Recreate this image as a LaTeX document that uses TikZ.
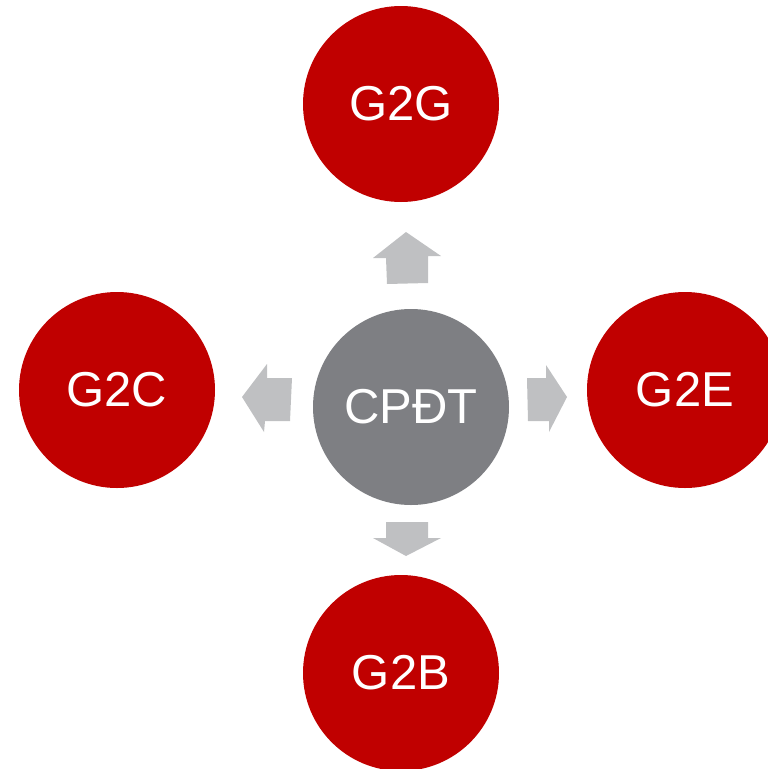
\documentclass[tikz,border=0pt]{standalone}
\usepackage{fontspec}
\setmainfont{Liberation Sans}
\definecolor{darkred}{HTML}{C00000}
\definecolor{midgray}{HTML}{7E7F83}
\definecolor{lightgray}{HTML}{BFC0C2}
\tikzset{
	bubble/.style={circle, fill=darkred, minimum size=196pt, inner sep=0pt, text=white, font=\fontsize{49}{49}\selectfont},
	hub/.style={bubble, fill=midgray},
	blockarrow/.style={fill=lightgray}
}
\begin{document}
\begin{tikzpicture}[x=1pt, y=-1pt]
	\useasboundingbox (0, 0) rectangle (768, 769);
	\clip (0, 0) rectangle (768, 769);
	\node[hub] (cpdt) at (411, 407) {CPĐT};
	\node[bubble] (g2g) at (401, 104) {G2G};
	\node[bubble] (g2c) at (117, 390) {G2C};
	\node[bubble] (g2e) at (685, 390) {G2E};
	\node[bubble] (g2b) at (401, 673) {G2B};
	% arrows
	\fill[blockarrow] (406, 232) -- (441, 256) -- (428, 256) -- (428, 283) -- (387, 284) -- (386, 258) -- (373, 258) -- cycle;
	\fill[blockarrow] (242, 397) -- (267, 364) -- (267, 378) -- (292, 378) -- (290, 421) -- (265, 421) -- (264, 432) -- cycle;
	\fill[blockarrow] (567, 397) -- (546, 365) -- (546, 378) -- (527, 378) -- (528, 421) -- (549, 421) -- (549, 432) -- cycle;
	\fill[blockarrow] (406, 556) -- (441, 538) -- (428, 538) -- (428, 522) -- (386, 522) -- (386, 538) -- (373, 538) -- cycle;
\end{tikzpicture}
\end{document}
